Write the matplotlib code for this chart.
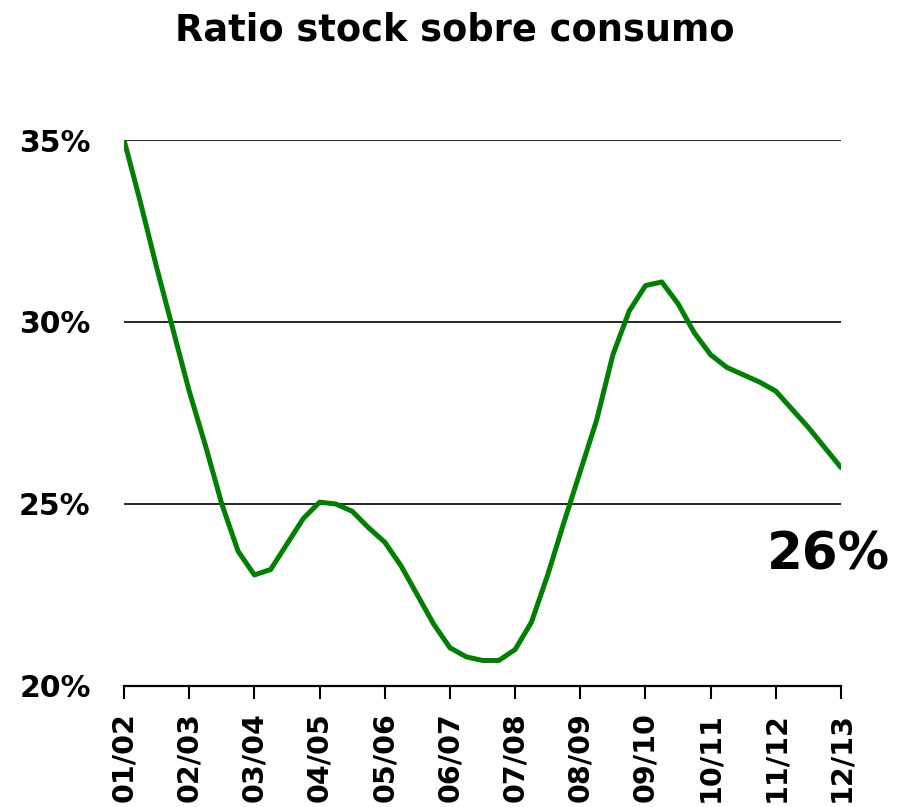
import matplotlib.pyplot as plt
import numpy as np

seasons = ["01/02", "02/03", "03/04", "04/05", "05/06", "06/07",
           "07/08", "08/09", "09/10", "10/11", "11/12", "12/13"]

# quarterly readings, starting at 01/02
ratio = [35.0, 33.3, 31.5, 29.8, 28.1, 26.6, 25.0, 23.7, 23.05, 23.2,
         23.9, 24.6, 25.05, 25.0, 24.8, 24.35, 23.95, 23.3, 22.5, 21.7,
         21.05, 20.8, 20.7, 20.7, 21.0, 21.75, 23.05, 24.5, 25.9, 27.3,
         29.1, 30.3, 31.0, 31.1, 30.5, 29.7, 29.1, 28.75, 28.55, 28.35,
         28.1, 27.6, 27.1, 26.55, 26.0]

yticks = [20, 25, 30, 35]
last_label = "26%"

fig = plt.figure(figsize=(9.1, 8.07), dpi=100)
ax = fig.add_axes([0.1363, 0.150, 0.7879, 0.6765])

x = np.arange(len(ratio)) / 4
ax.plot(x, ratio, color="#008000", lw=3.6, solid_capstyle="round",
        solid_joinstyle="round", zorder=3)

ax.set_xlim(0, len(seasons) - 1)
ax.set_ylim(20, 35)
ax.set_yticks(yticks)
ax.set_yticklabels([f"{v}%" for v in yticks], fontsize=21.5, fontweight="bold")
ax.set_xticks(range(len(seasons)))
ax.set_xticklabels(seasons, rotation=90, fontsize=20.5, fontweight="bold")
ax.tick_params(axis="y", length=0, pad=24)
ax.tick_params(axis="x", length=9, width=1.5, direction="out", pad=10)

ax.grid(axis="y", color="black", lw=1.2)
ax.set_axisbelow(True)
for s in ["top", "right", "left"]:
    ax.spines[s].set_visible(False)
ax.spines["bottom"].set_linewidth(1.6)

ax.text(9.86, 23.19, last_label, fontsize=37, fontweight="bold",
        ha="left", va="baseline", clip_on=False)

fig.text(0.5, 0.95, "Ratio stock sobre consumo", fontsize=26.5,
         fontweight="bold", ha="center", va="baseline")

plt.savefig("out.png", dpi=100)
